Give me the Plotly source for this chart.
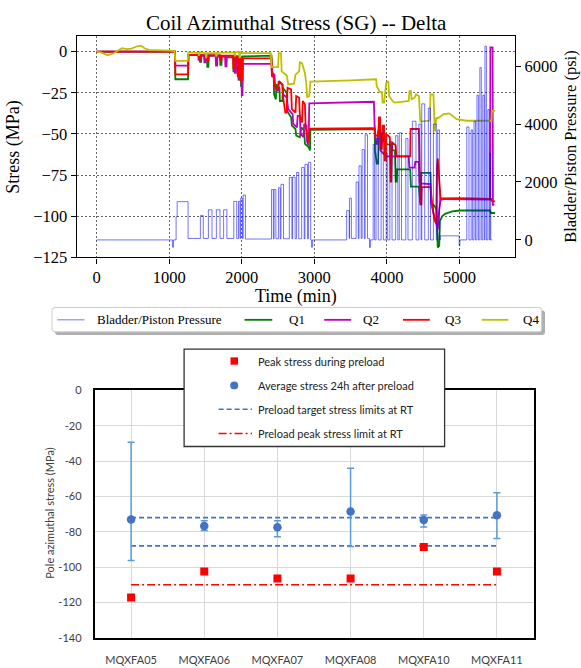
import plotly.graph_objects as go

W, H = 581, 668

# ---------------- top chart data (time in min) ----------------
# Bladder/Piston pressure (psi), step values (value holds until next time)
P_T = [0, 1045, 1060, 1095, 1110, 1260, 1430, 1470, 1540, 1590, 1650, 1700, 1750, 1795,
       1890, 1930, 1955, 1975, 1985, 2010, 2020, 2050, 2410, 2435, 2445, 2470, 2505, 2530,
       2540, 2575, 2655, 2690, 2700, 2735, 2755, 2785, 2825, 2860, 2870, 2905, 2918, 2950,
       2960, 2975, 3445, 3480, 3485, 3510, 3575, 3605, 3615, 3645, 3658, 3688, 3700, 3732,
       3760, 3772, 3810, 3830, 3850, 3880, 3920, 3950, 3990, 4010, 4040, 4070, 4120, 4150,
       4170, 4200, 4260, 4290, 4350, 4400, 4440, 4470, 4480, 4520, 4570, 4600, 4640, 4680,
       4700, 4725, 4735, 4995, 5005, 5100, 5130, 5160, 5180, 5200, 5220, 5240, 5260, 5280,
       5300, 5320, 5340, 5350, 5370, 5390, 5410, 5420, 5430, 5450]
P_V = [0, -250, 0, 800, 1320, 50, 840, 50, 1040, 50, 1040, 50, 1040, 50,
       1330, 50, 1330, 50, 1440, 50, 1550, 30, 1740, 40, 1740, 40, 1800, 40,
       1920, 40, 2160, 40, 2170, 40, 2330, 40, 2500, 40, 2610, 40, 2680, 0,
       -250, 0, 1010, 50, 1440, 50, 2000, 50, 2560, 50, 3120, 50, 3630, 50,
       -260, 0, 3300, 0, 3500, 0, 3700, 0, 3000, 0, 3400, 0, 3600, 0,
       3700, 0, 3500, 0, 4100, 0, 4000, 0, 4700, 0, 4550, 0, 4000, 0,
       3800, 0, 140, -200, 0, 3900, 0, 3800, 0, 4100, 0, 5000, 0, 5950,
       0, 5000, 0, 6690, 0, 4500, 0, 3000, 0, 0]

Q1_T = [0, 1080, 1085, 1260, 1265, 1420, 1425, 1440, 1445, 1520, 1525, 1540, 1545, 1700, 1705,
        1720, 1725, 1880, 1885, 1910, 1915, 1950, 1955, 1975, 1980, 1990, 2005, 2010, 2410,
        2415, 2440, 2445, 2470, 2475, 2520, 2525, 2560, 2565, 2620, 2625, 2680, 2690, 2740,
        2750, 2800, 2820, 2860, 2870, 2920, 2940, 2945, 3830, 3835, 3860, 3880, 3885, 3930,
        3935, 3960, 3990, 4060, 4080, 4110, 4120, 4135, 4140, 4320, 4330, 4440, 4450, 4460,
        4470, 4600, 4610, 4660, 4680, 4700, 4720, 4730, 4760, 4800, 4900, 5000, 5420, 5430, 5490]
Q1_V = [0, 0, -16.8, -16.8, -2.2, -2.2, -6.3, -6.3, -2.4, -2.4, -9.3, -9.3, -2.4, -2.4, -8,
        -8, -2.6, -2.6, -12, -12, -3, -3, -17, -17, -4, -21, -21, -3, -2.5,
        -12, -14, -26, -29, -20, -22, -30, -30, -22, -25, -36, -40, -45, -47,
        -51, -52, -46, -48, -56, -58, -60, -47.5, -47, -60, -68, -68, -50, -50,
        -55, -53, -56, -57, -60, -60, -79, -79, -71.5, -71.5, -82, -82, -92, -92,
        -73.6, -73.6, -92, -94, -96, -119, -118, -103, -100, -98.5, -97, -96.5, -96.5, -98, -98]

Q2_T = [0, 1080, 1085, 1260, 1265, 1400, 1405, 1420, 1425, 1480, 1485, 1500, 1505, 1640, 1645,
        1660, 1665, 1770, 1775, 1790, 1795, 1900, 1905, 1920, 1925, 1960, 1965, 1975, 1980,
        1995, 2000, 2010, 2015, 2410, 2415, 2450, 2460, 2500, 2510, 2560, 2570, 2620, 2640,
        2700, 2710, 2760, 2770, 2800, 2810, 2850, 2860, 2890, 2900, 2920, 2930, 3820, 3830,
        3850, 3870, 3880, 3900, 3910, 3950, 3990, 4300, 4310, 4380, 4390, 4440, 4450, 4600,
        4610, 4650, 4680, 4700, 4720, 4740, 4800, 5420, 5425, 5455, 5460, 5480]
Q2_V = [0, 0, -8.5, -8.5, -2, -2, -5, -5, -2.5, -2.5, -6.5, -6.5, -2.5, -2.5, -8.5,
        -8.5, -3, -3, -9, -9, -3.5, -3.5, -13, -13, -4, -4, -17, -17, -5,
        -5, -26.5, -26.5, -7.5, -7.5, -14, -14, -22, -24, -18, -20, -26, -28, -35,
        -38, -44, -46, -39, -39, -50, -52, -44, -45, -55, -57, -31.5, -30.5, -45,
        -56, -56, -48, -48, -60, -62, -63.6, -63.6, -70.5, -70.5, -67, -67, -80, -80.5,
        -92, -100, -106, -108, -96, -90, -89.5, -89.8, 2.5, 2.5, -93, -93]

Q3_T = [0, 1080, 1085, 1260, 1265, 1410, 1415, 1430, 1435, 1520, 1525, 1540, 1545, 1700, 1705,
        1720, 1725, 1880, 1885, 1905, 1910, 1940, 1945, 1960, 1965, 1985, 1990, 2010, 2015,
        2410, 2415, 2440, 2450, 2500, 2510, 2560, 2570, 2600, 2620, 2630, 2680, 2690, 2740,
        2750, 2790, 2800, 2830, 2840, 2870, 2880, 2910, 2920, 2935, 3830, 3840, 3880, 3890,
        3905, 3910, 3930, 3940, 3960, 3970, 3985, 3990, 4040, 4050, 4060, 4070, 4120, 4130,
        4320, 4325, 4440, 4450, 4460, 4475, 4480, 4600, 4610, 4630, 4660, 4680, 4690, 4700,
        4720, 4740, 5000, 5440, 5450, 5490]
Q3_V = [0, 0, -13.8, -13.8, -2.1, -2.1, -4, -4, -2.2, -2.2, -5.5, -5.5, -2.3, -2.3, -5,
        -5, -2.5, -2.5, -10, -10, -3, -3, -15, -15, -4, -4, -17.5, -17.5, -4.1,
        -4.1, -15, -15.5, -21, -23, -18, -20, -28, -37, -37, -22, -23, -35, -37,
        -27, -28, -39, -43, -30, -32, -46, -52, -55, -46.8, -46.5, -51, -51, -40,
        -40, -59, -59, -45, -45, -66, -66, -50, -52, -79, -79, -55, -57, -63.6,
        -63.6, -47, -47, -70, -92.7, -92.7, -82.3, -82.3, -88, -95, -103, -104, -70, -65,
        -78, -89.2, -89, -89.5, -91, -91]

Q4_T = [0, 60, 150, 230, 290, 350, 420, 480, 560, 610, 660, 720, 1000, 1075, 1085, 1255, 1265,
        1400, 1410, 1420, 1500, 1510, 1520, 1640, 1650, 1660, 1900, 1905, 1915, 1960, 1970,
        1980, 2000, 2400, 2410, 2500, 2510, 2540, 2550, 2620, 2640, 2720, 2740, 2790, 2800,
        2830, 2850, 2870, 2890, 2900, 2930, 2945, 3500, 3850, 3860, 3900, 3930, 3940, 3960,
        3990, 4020, 4030, 4060, 4100, 4200, 4300, 4310, 4330, 4340, 4380, 4400, 4440, 4460,
        4590, 4600, 4640, 4660, 4680, 4720, 4780, 4860, 4960, 5100, 5440, 5445, 5490]
Q4_V = [0, -0.5, -2.3, -1.2, 0.5, 2.0, 1.5, 1.8, 3.2, 3.6, 2.0, 1.0, 0.6, 0.3, -5.6, -5.6, -0.5,
        -0.8, -2.5, -0.5, -1, -4, -1, -1, -3, -0.8, -0.5, -3, -0.5, -0.2, -4,
        0, -1, -1, -9.5, -9.5, -1, -1, -12, -14.5, -20, -19.5, -14, -12, -6.5,
        -7, -10, -13, -20, -27.5, -27, -18.3, -17.5, -16.8, -21, -24.5, -24.5, -31, -31,
        -19, -18, -26.9, -29, -31, -30.5, -30, -24, -24, -29, -28, -26, -27, -42.5,
        -42, -26, -26, -48.5, -40.5, -40, -38, -37.5, -41, -42, -42, -36, -36]

SERIES = [("Q1", Q1_T, Q1_V, "#008000"), ("Q2", Q2_T, Q2_V, "#bf00bf"),
          ("Q3", Q3_T, Q3_V, "#ff0000"), ("Q4", Q4_T, Q4_V, "#bfbf00")]
PRESS_NAME = "Bladder/Piston Pressure"
PRESS_COLOR = "rgba(0,0,255,0.55)"

X_TICKS = [0, 1000, 2000, 3000, 4000, 5000]
Y_TICKS = [0, -25, -50, -75, -100, -125]
Y2_TICKS = [0, 2000, 4000, 6000]

# ---------------- bottom chart data ----------------
MAGNETS = ["MQXFA05", "MQXFA06", "MQXFA07", "MQXFA08", "MQXFA10", "MQXFA11"]
PEAK = [-117.2, -102.5, -106.5, -106.5, -88.7, -102.5]
AVG = [-73.1, -76.8, -77.5, -68.5, -73.3, -70.7]
AVG_MAX = [-29.4, -73.8, -73.8, -44.1, -70.5, -57.9]
AVG_MIN = [-96.3, -79.3, -82.9, -88.4, -77.3, -83.8]
TARGET_LIMITS = [-72, -88]
PEAK_LIMIT = -110
Y3_TICKS = [0, -20, -40, -60, -80, -100, -120, -140]

SERIF = "Liberation Serif"
SANS = "Lato"


def px(x):
    return x / W


def py(y):
    return 1 - y / H


fig = go.Figure()

# top chart traces
fig.add_trace(go.Scatter(x=P_T, y=P_V, xaxis="x", yaxis="y2", mode="lines", name=PRESS_NAME,
                         line=dict(color=PRESS_COLOR, width=1, shape="hv"), showlegend=False))
for name, t, v, c in SERIES:
    fig.add_trace(go.Scatter(x=t, y=v, xaxis="x", yaxis="y", mode="lines", name=name,
                             line=dict(color=c, width=1.8), showlegend=False))

# bottom chart traces
for lim in TARGET_LIMITS:
    fig.add_trace(go.Scatter(x=[MAGNETS[0], MAGNETS[-1]], y=[lim, lim], xaxis="x2", yaxis="y3",
                             mode="lines", line=dict(color="#4472C4", width=1.6, dash="5px,3px"),
                             showlegend=False))
fig.add_trace(go.Scatter(x=[MAGNETS[0], MAGNETS[-1]], y=[PEAK_LIMIT, PEAK_LIMIT], xaxis="x2", yaxis="y3",
                         mode="lines", line=dict(color="#ff0000", width=1.4, dash="8px,3px,2px,3px"),
                         showlegend=False))
fig.add_trace(go.Scatter(
    x=MAGNETS, y=AVG, xaxis="x2", yaxis="y3", mode="markers",
    marker=dict(symbol="circle", size=8.5, color="#4472C4"),
    error_y=dict(type="data", symmetric=False,
                 array=[hi - a for hi, a in zip(AVG_MAX, AVG)],
                 arrayminus=[a - lo for a, lo in zip(AVG, AVG_MIN)],
                 color="#5B9BD5", thickness=1.5, width=3.5),
    showlegend=False))
fig.add_trace(go.Scatter(x=MAGNETS, y=PEAK, xaxis="x2", yaxis="y3", mode="markers",
                         marker=dict(symbol="square", size=8, color="#ff0000"), showlegend=False))

serif_tick = dict(family=SERIF, size=16.5, color="black")
sans_tick = dict(family=SANS, size=11, color="#404040")

grid_common = dict(showgrid=True, gridcolor="#666666", griddash="2px,2px", gridwidth=0.9, zeroline=False)

fig.update_layout(
    width=W, height=H, margin=dict(l=0, r=0, t=0, b=0),
    paper_bgcolor="white", plot_bgcolor="white", showlegend=False,
    xaxis=dict(domain=[px(76.7), px(515)], anchor="y", range=[-274, 5764],
               tickvals=X_TICKS, ticktext=[str(v) for v in X_TICKS],
               ticks="outside", ticklen=5, tickcolor="black", tickfont=serif_tick,
               showline=True, mirror=True, linecolor="black", linewidth=1.2, **grid_common),
    yaxis=dict(domain=[py(257), py(30)], anchor="x", range=[-125, 9.3],
               tickvals=Y_TICKS, ticktext=[("\u2212" + str(-v)) if v < 0 else str(v) for v in Y_TICKS],
               ticks="outside", ticklen=5, tickcolor="black", tickfont=serif_tick,
               showline=True, mirror=True, linecolor="black", linewidth=1.2, **grid_common),
    yaxis2=dict(overlaying="y", side="right", anchor="x", range=[-606, 7034],
                tickvals=Y2_TICKS, ticktext=[str(v) for v in Y2_TICKS],
                ticks="outside", ticklen=5, tickcolor="black", tickfont=serif_tick,
                showline=True, linecolor="black", linewidth=1.2, showgrid=False, zeroline=False),
    xaxis2=dict(domain=[px(94.5), px(533.5)], anchor="y3", type="category",
                categoryorder="array", categoryarray=MAGNETS, range=[-0.5, 5.5],
                ticks="", tickfont=sans_tick, ticklabelstandoff=11,
                showline=True, mirror=True, linecolor="black", linewidth=1.5,
                showgrid=True, gridcolor="#d9d9d9", gridwidth=1.3, zeroline=False),
    yaxis3=dict(domain=[py(647.3), py(393.3)], anchor="x2", range=[-140, 0],
                tickvals=Y3_TICKS, ticktext=[str(v) for v in Y3_TICKS],
                ticks="", tickfont=sans_tick, ticklabelstandoff=9,
                showline=True, mirror=True, linecolor="black", linewidth=1.5,
                showgrid=True, gridcolor="#d9d9d9", gridwidth=1.3, zeroline=False),
)

ann = []
ann.append(dict(text="Coil Azimuthal Stress (SG) -- Delta", x=px(296), y=py(16.5), xref="paper", yref="paper",
                showarrow=False, xanchor="center", yanchor="middle", font=dict(family=SERIF, size=21, color="black")))
ann.append(dict(text="Stress (MPa)", x=px(14), y=py(143.5), xref="paper", yref="paper", textangle=-90,
                showarrow=False, xanchor="center", yanchor="middle", font=dict(family=SERIF, size=18, color="black")))
ann.append(dict(text="Bladder/Piston Pressure (psi)", x=px(571), y=py(143.5), xref="paper", yref="paper",
                textangle=-90, showarrow=False, xanchor="center", yanchor="middle",
                font=dict(family=SERIF, size=16.5, color="black")))
ann.append(dict(text="Time (min)", x=px(296), y=py(297), xref="paper", yref="paper",
                showarrow=False, xanchor="center", yanchor="middle", font=dict(family=SERIF, size=18, color="black")))

shapes = []


def rounded_rect(x0, y0, x1, y1, r):
    X0, X1 = px(x0), px(x1)
    rx, ry = r / W, r / H
    Y0, Y1 = py(y0), py(y1)  # Y0 top (bigger), Y1 bottom
    return (f"M {X0 + rx},{Y0} L {X1 - rx},{Y0} Q {X1},{Y0} {X1},{Y0 - ry} "
            f"L {X1},{Y1 + ry} Q {X1},{Y1} {X1 - rx},{Y1} L {X0 + rx},{Y1} "
            f"Q {X0},{Y1} {X0},{Y1 + ry} L {X0},{Y0 - ry} Q {X0},{Y0} {X0 + rx},{Y0} Z")


# top legend (shadow + box)
shapes.append(dict(type="path", path=rounded_rect(55, 311.5, 545, 336.5, 3), xref="paper", yref="paper",
                   fillcolor="rgba(120,120,120,0.6)", line=dict(width=0), layer="above"))
shapes.append(dict(type="path", path=rounded_rect(52, 308.3, 541.7, 333.3, 3), xref="paper", yref="paper",
                   fillcolor="white", line=dict(color="#cccccc", width=1), layer="above"))
leg_items = [(PRESS_NAME, PRESS_COLOR, 1, 57.4, 84.5, 94.5)]
leg_pos = [(244.5, 272.3, 287.1), (324.2, 351.2, 361.2), (403.0, 429.8, 442.8), (481.7, 508.3, 520.6)]
for (name, t, v, c), (a, b, tx) in zip(SERIES, leg_pos):
    leg_items.append((name, c, 1.8, a, b, tx))
for name, c, w, a, b, tx in leg_items:
    shapes.append(dict(type="line", x0=px(a), x1=px(b), y0=py(321), y1=py(321), xref="paper", yref="paper",
                       line=dict(color=c, width=w), layer="above"))
    ann.append(dict(text=name, x=px(tx), y=py(321), xref="paper", yref="paper", showarrow=False,
                    xanchor="left", yanchor="middle", font=dict(family=SERIF, size=13, color="black")))

# bottom legend box
shapes.append(dict(type="rect", x0=px(184.1), x1=px(444.6), y0=py(451), y1=py(351), xref="paper", yref="paper",
                   fillcolor="white", line=dict(color="#333333", width=1.3), layer="above"))
shapes.append(dict(type="rect", x0=px(230.5), x1=px(238), y0=py(367), y1=py(359.5), xref="paper", yref="paper",
                   fillcolor="#ff0000", line=dict(width=0), layer="above"))
shapes.append(dict(type="circle", x0=px(230.2), x1=px(238.2), y0=py(392.3), y1=py(384.3), xref="paper", yref="paper",
                   fillcolor="#4472C4", line=dict(width=0), layer="above"))
shapes.append(dict(type="line", x0=px(218.6), x1=px(252), y0=py(412.7), y1=py(412.7), xref="paper", yref="paper",
                   line=dict(color="#4472C4", width=1.6, dash="5px,3px"), layer="above"))
shapes.append(dict(type="line", x0=px(218.6), x1=px(252), y0=py(437.7), y1=py(437.7), xref="paper", yref="paper",
                   line=dict(color="#ff0000", width=1.4, dash="8px,3px,2px,3px"), layer="above"))
bl_texts = ["Peak stress during preload", "Average stress 24h after preload",
            "Preload target stress limits at RT", "Preload peak stress limit at RT"]
for txt, yy in zip(bl_texts, [363.3, 388.3, 412.7, 437.7]):
    ann.append(dict(text=txt, x=px(255.6), y=py(yy), xref="paper", yref="paper", showarrow=False,
                    xanchor="left", yanchor="middle", font=dict(family=SANS, size=11, color="#222222")))

ann.append(dict(text="Pole azimuthal stress (MPa)", x=px(50), y=py(520), xref="paper", yref="paper", textangle=-90,
                showarrow=False, xanchor="center", yanchor="middle", font=dict(family=SANS, size=11, color="#404040")))

fig.update_layout(annotations=ann, shapes=shapes)

fig.write_html("out.html", config={"displayModeBar": False},
               post_script="document.body.style.margin='0';document.body.style.overflow='hidden';")
